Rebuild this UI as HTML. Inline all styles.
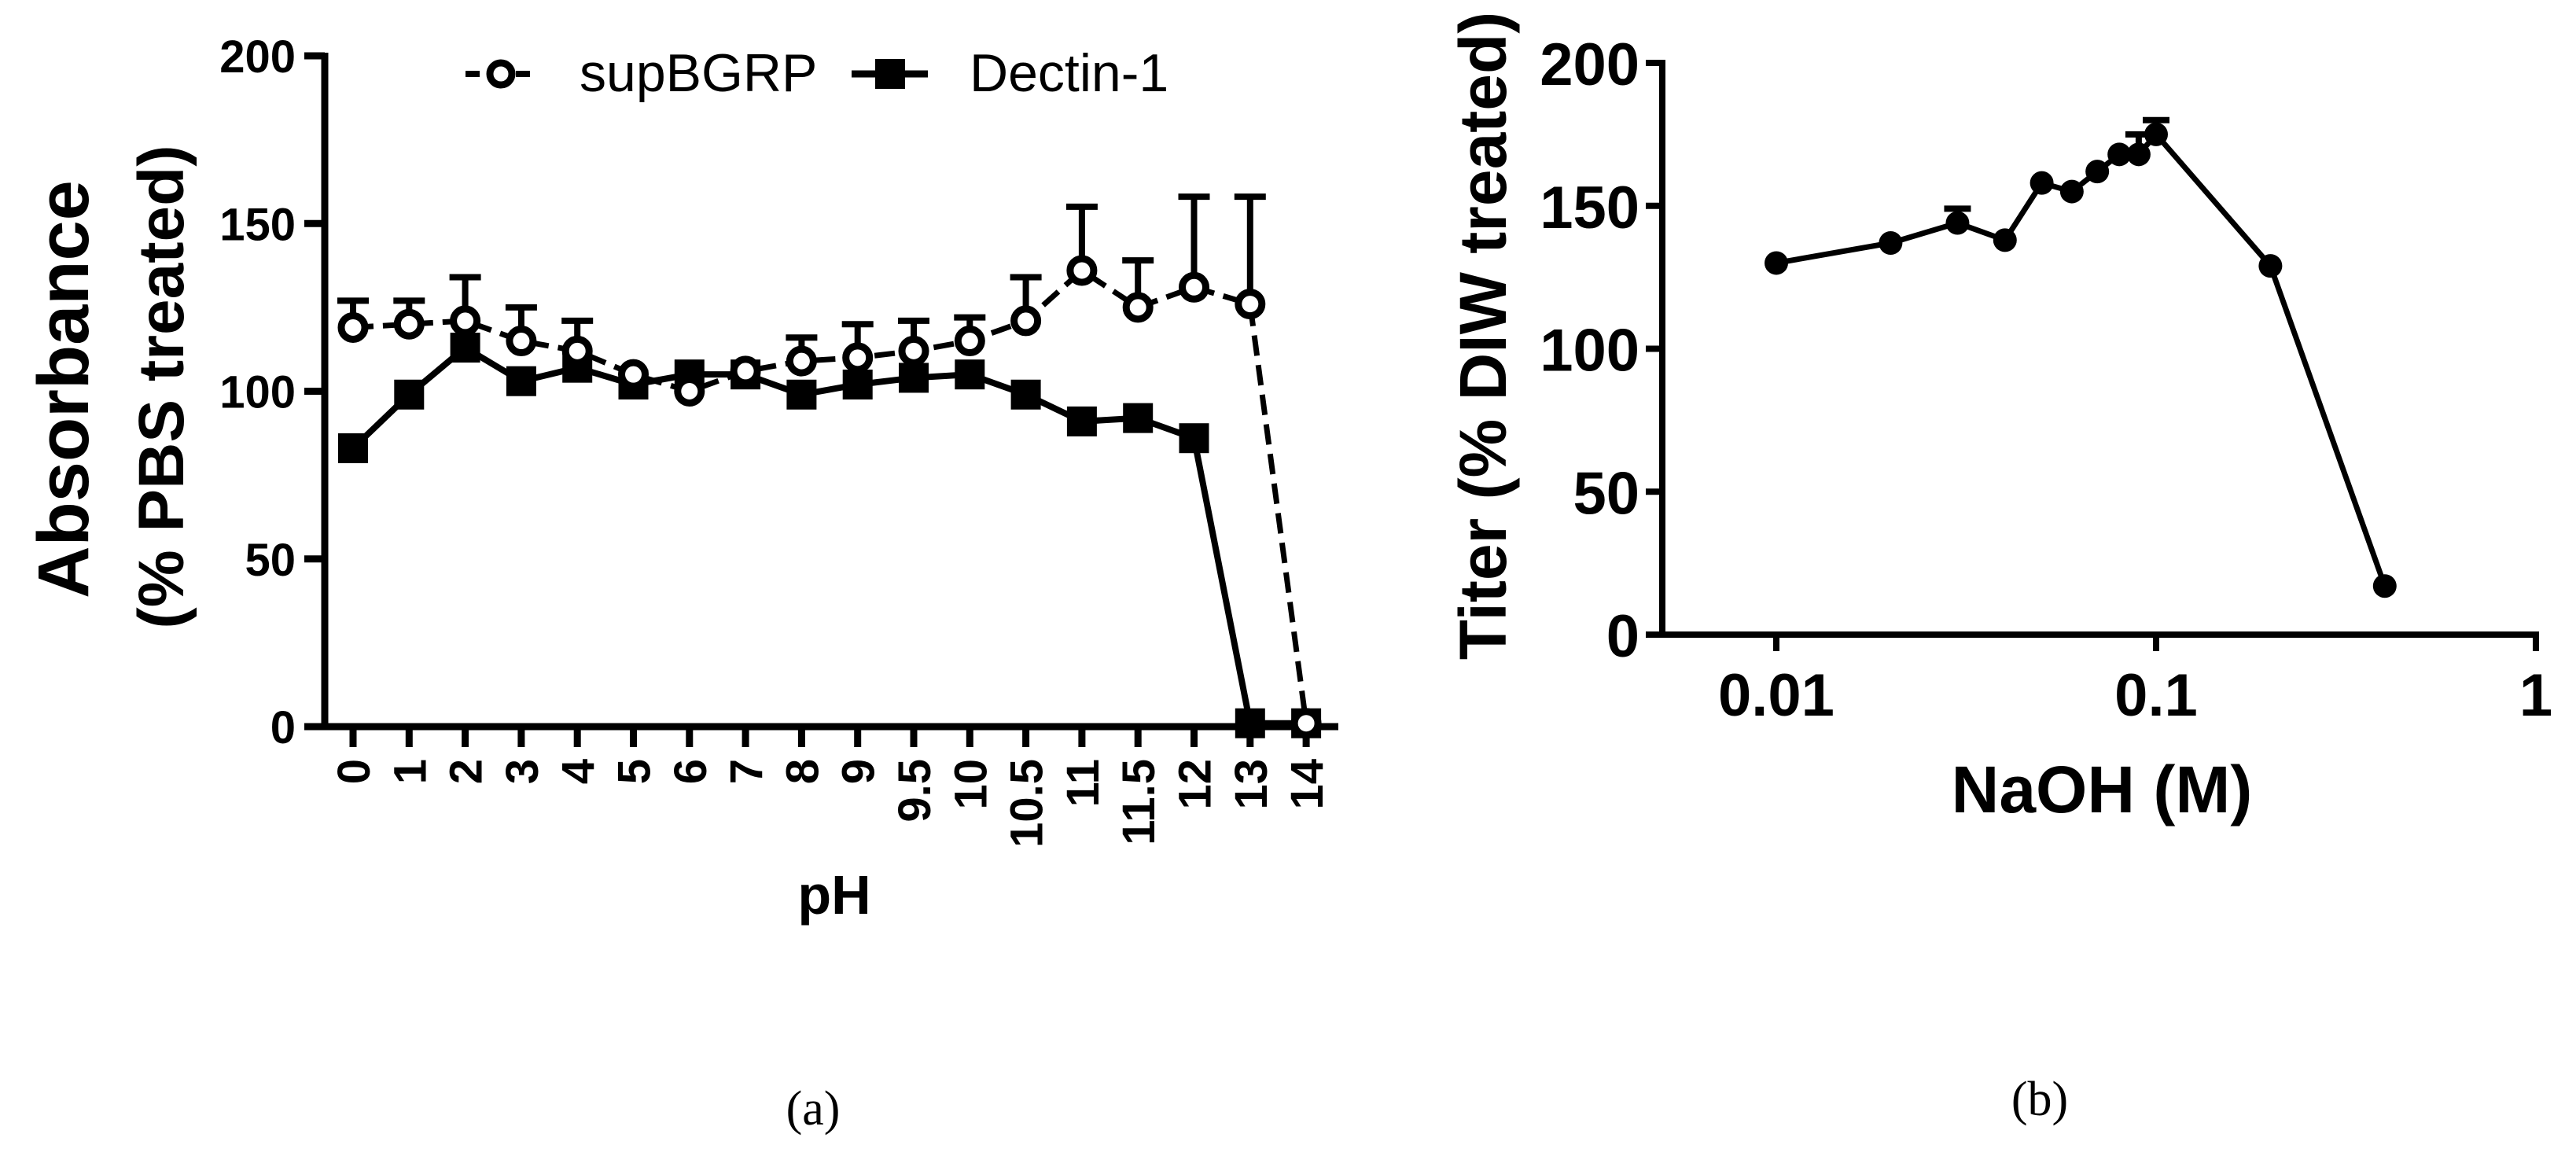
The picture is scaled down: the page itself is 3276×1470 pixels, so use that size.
<!DOCTYPE html>
<html><head><meta charset="utf-8">
<style>html,body{margin:0;padding:0;background:#fff;}svg{display:block;}</style>
</head><body>
<svg id="fig" width="3276" height="1470" viewBox="0 0 3276 1470" xmlns="http://www.w3.org/2000/svg" font-family="Liberation Sans, Arial, sans-serif">
<rect width="3276" height="1470" fill="#fff"/>
<g id="pa"></g>
<g id="pb"></g>
<text x="1034" y="1430" font-family="Liberation Serif, serif" font-size="62" text-anchor="middle">(a)</text>
<text x="2594" y="1418" font-family="Liberation Serif, serif" font-size="62" text-anchor="middle">(b)</text>
</svg>
<script>
// Panel A data
const phCategories = ["0","1","2","3","4","5","6","7","8","9","9.5","10","10.5","11","11.5","12","13","14"];
const supBGRP = [119,120,121,115,112,105,100,106,109,110,112,115,121,136,125,131,126,1];
const supBGRPErr = [127,127,134,125,121,106,101,107,116,120,121,122,134,155,139,158,158,2];
const dectin = [83,99,113,103,107,102,105,105,99,102,104,105,99,91,92,86,1,1];
const yTicksA = [0,50,100,150,200];
// Panel B data
const naoh = [0.01,0.02,0.03,0.04,0.05,0.06,0.07,0.08,0.09,0.1,0.2,0.4];
const titer = [130,137,144,138,158,155,162,168,168,175,129,17];
const titerErr = [130,137,149,138,158,155,162,168,175,180,129,17];
const yTicksB = [0,50,100,150,200];
const xTicksB = [0.01,0.1,1];
const xTickLabelsB = ["0.01","0.1","1"];

const NS="http://www.w3.org/2000/svg";
function mk(parent,tag,attrs){const e=document.createElementNS(NS,tag);for(const k in attrs)e.setAttribute(k,attrs[k]);parent.appendChild(e);return e;}

// ---------- Panel A ----------
const A=document.getElementById('pa');
const ax0=413, ay0=924, ay200=71, cx0=449, cdx=71.3;
const yA=v=>ay0-(v/200)*(ay0-ay200);
const xA=i=>cx0+i*cdx;
let e;
e=mk(A,'line',{x1:ax0,y1:ay200-4,x2:ax0,y2:ay0+4,stroke:'#000','stroke-width':9});


e=mk(A,'line',{x1:387,y1:ay0,x2:1702,y2:ay0,stroke:'#000','stroke-width':9});


yTicksA.forEach(v=>{
  e=mk(A,'line',{x1:387,y1:yA(v),x2:ax0,y2:yA(v),stroke:'#000','stroke-width':9});
  
  
  e=mk(A,'text',{x:376,y:yA(v)+21,'font-size':58,'font-weight':'bold','text-anchor':'end'});
  e.textContent=v;
  
  
});
phCategories.forEach((c,i)=>{
  e=mk(A,'line',{x1:xA(i),y1:ay0,x2:xA(i),y2:950,stroke:'#000','stroke-width':9});
  
  
  e=mk(A,'text',{x:0,y:0,'font-size':58,'font-weight':'bold','text-anchor':'end',transform:`translate(${xA(i)+21},965) rotate(-90)`});
  e.textContent=c;
  
  
});
// error bars supBGRP
supBGRP.forEach((v,i)=>{
  if(supBGRPErr[i]-v<3) return;
  e=mk(A,'path',{d:`M${xA(i)},${yA(v)} V${yA(supBGRPErr[i])} M${xA(i)-20},${yA(supBGRPErr[i])} H${xA(i)+20}`,stroke:'#000','stroke-width':8,fill:'none'});
  
  
});
e=mk(A,'polyline',{points:supBGRP.map((v,i)=>xA(i)+','+yA(v)).join(' '),fill:'none',stroke:'#000','stroke-width':7,'stroke-dasharray':'26 12'});


e=mk(A,'polyline',{points:dectin.map((v,i)=>xA(i)+','+yA(v)).join(' '),fill:'none',stroke:'#000','stroke-width':8});


dectin.forEach((v,i)=>{
  e=mk(A,'rect',{x:xA(i)-19,y:yA(v)-19,width:38,height:38,fill:'#000'});
  
  
});
supBGRP.forEach((v,i)=>{
  e=mk(A,'circle',{cx:xA(i),cy:yA(v),r:15,fill:'#fff',stroke:'#000','stroke-width':9});
  
  
});
// legend
const L=mk(A,'g',{});


mk(L,'line',{x1:592,y1:94,x2:685,y2:94,stroke:'#000','stroke-width':8,'stroke-dasharray':'18 14'});
mk(L,'circle',{cx:637,cy:94,r:14,fill:'#fff',stroke:'#000','stroke-width':9});
e=mk(L,'text',{x:737,y:116,'font-size':68});e.textContent='supBGRP';


mk(L,'line',{x1:1083,y1:94,x2:1180,y2:94,stroke:'#000','stroke-width':9});
mk(L,'rect',{x:1113,y:75,width:38,height:38,fill:'#000'});
e=mk(L,'text',{x:1233,y:116,'font-size':68});e.textContent='Dectin-1';


e=mk(A,'text',{x:0,y:0,'font-size':92,'font-weight':'bold','text-anchor':'middle',transform:'translate(112,495) rotate(-90)'});
e.textContent='Absorbance';


e=mk(A,'text',{x:0,y:0,'font-size':82,'font-weight':'bold','text-anchor':'middle',transform:'translate(233,492) rotate(-90)'});
e.textContent='(% PBS treated)';


e=mk(A,'text',{x:1061,y:1162,'font-size':70,'font-weight':'bold','text-anchor':'middle'});
e.textContent='pH';



// ---------- Panel B ----------
const B=document.getElementById('pb');
const bx0=2114, by0=807, by200=80, lx01=2259, dec=483;
const yB=v=>by0-(v/200)*(by0-by200);
const xB=v=>lx01+Math.log10(v/0.01)*dec;
e=mk(B,'line',{x1:bx0,y1:by200-4,x2:bx0,y2:by0+4,stroke:'#000','stroke-width':8});


e=mk(B,'line',{x1:2093,y1:by0,x2:xB(1)+4,y2:by0,stroke:'#000','stroke-width':8});


yTicksB.forEach(v=>{
  e=mk(B,'line',{x1:2093,y1:yB(v),x2:bx0,y2:yB(v),stroke:'#000','stroke-width':8});
  
  
  e=mk(B,'text',{x:2085,y:yB(v)+28,'font-size':76,'font-weight':'bold','text-anchor':'end'});
  e.textContent=v;
  
  
});
xTicksB.forEach((v,i)=>{
  e=mk(B,'line',{x1:xB(v),y1:by0,x2:xB(v),y2:828,stroke:'#000','stroke-width':8});
  
  
  e=mk(B,'text',{x:xB(v),y:910,'font-size':76,'font-weight':'bold','text-anchor':'middle'});
  e.textContent=xTickLabelsB[i];
  
  
});
titer.forEach((v,i)=>{
  if(titerErr[i]-v<3) return;
  e=mk(B,'path',{d:`M${xB(naoh[i])},${yB(v)} V${yB(titerErr[i])} M${xB(naoh[i])-17},${yB(titerErr[i])} H${xB(naoh[i])+17}`,stroke:'#000','stroke-width':8,fill:'none'});
  
  
});
e=mk(B,'polyline',{points:titer.map((v,i)=>xB(naoh[i])+','+yB(v)).join(' '),fill:'none',stroke:'#000','stroke-width':7});


titer.forEach((v,i)=>{
  e=mk(B,'circle',{cx:xB(naoh[i]),cy:yB(v),r:15,fill:'#000'});
  
  
});
e=mk(B,'text',{x:0,y:0,'font-size':84,'font-weight':'bold','text-anchor':'middle',transform:'translate(1915,427) rotate(-90)'});
e.textContent='Titer (% DIW treated)';


e=mk(B,'text',{x:2673,y:1033,'font-size':84,'font-weight':'bold','text-anchor':'middle'});
e.textContent='NaOH (M)';


</script>
</body></html>
